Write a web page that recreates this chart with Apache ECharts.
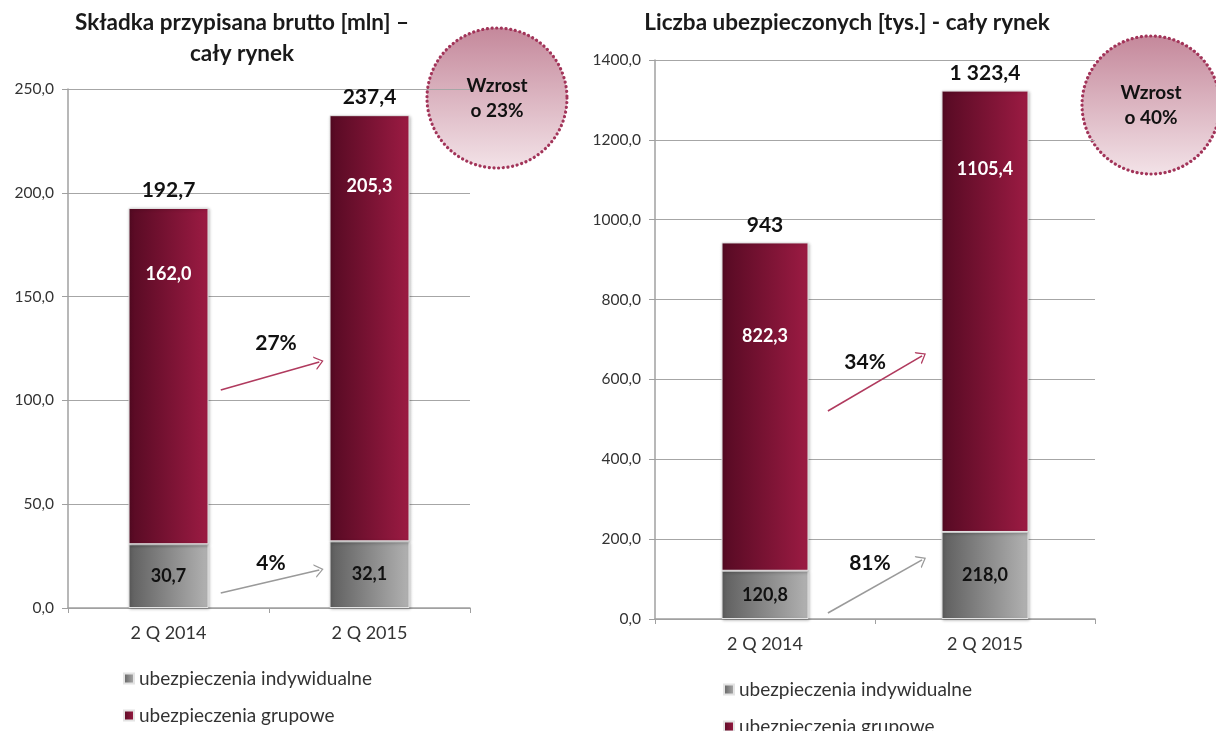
<!DOCTYPE html>
<html>
<head>
<meta charset="utf-8">
<title>Składka i liczba ubezpieczonych</title>
<script src="https://cdn.jsdelivr.net/npm/echarts@6/dist/echarts.min.js"></script>
<style>
  html, body { margin: 0; padding: 0; background: #fff; }
  #chart { width: 1216px; height: 731px; }
</style>
</head>
<body>
<div id="chart"></div>
<script>
// dane z wykresu
const categories = ['2 Q 2014', '2 Q 2015'];
const seriesNames = ['ubezpieczenia indywidualne', 'ubezpieczenia grupowe'];

const premiumIndyw = [30.7, 32.1];
const premiumGrup = [162.0, 205.3];
const premiumTotals = ['192,7', '237,4'];
const premiumGrowth = ['27%', '4%']; // grupowe, indywidualne
const premiumTotalGrowth = 'Wzrost\no 23%';

const insuredIndyw = [120.8, 218.0];
const insuredGrup = [822.3, 1105.4];
const insuredTotals = ['943', '1 323,4'];
const insuredGrowth = ['34%', '81%'];
const insuredTotalGrowth = 'Wzrost\no 40%';

// osie
const premiumAxis = { min: 0, max: 250, interval: 50 };
const insuredAxis = { min: 0, max: 1400, interval: 200 };

const FONT = 'Lato, "Open Sans", sans-serif';
const GREY = new echarts.graphic.LinearGradient(0, 0, 1, 0, [
  { offset: 0, color: '#5e5e5e' },
  { offset: 1, color: '#b2b2b2' }
]);
const MAROON = new echarts.graphic.LinearGradient(0, 0, 1, 0, [
  { offset: 0, color: '#560a23' },
  { offset: 1, color: '#9c1b43' }
]);
const fmt = (v) => v.toFixed(1).replace('.', ',');

// strzalki i opisy wzrostu (x: pozycja miedzy kategoriami 0..1)
const panels = [
  {
    grid: { left: 68, right: 746, top: 89, bottom: 123 },
    axis: premiumAxis,
    indyw: premiumIndyw, grup: premiumGrup, totals: premiumTotals,
    growth: premiumGrowth,
    arrows: [
      [[0.26, 105], [0.75, 118.5], '#b03a5e'],
      [[0.26, 7.2], [0.75, 18.3], '#9a9a9a']
    ],
    growthPos: [[0.535, 127.5], [0.51, 21.5]],
    innerDrop: [57, 62],
    barWidth: 80,
    legend: { left: 118, top: 664 },
    title: { x: 242, y: 7, text: 'Składka przypisana brutto [mln] –\ncały rynek' },
    circle: { cx: 497, cy: 98, r: 70, text: premiumTotalGrowth }
  },
  {
    grid: { left: 655, right: 121, top: 60, bottom: 112 },
    axis: insuredAxis,
    indyw: insuredIndyw, grup: insuredGrup, totals: insuredTotals,
    growth: insuredGrowth,
    arrows: [
      [[0.286, 521], [0.714, 659], '#b03a5e'],
      [[0.286, 15], [0.714, 148], '#9a9a9a']
    ],
    growthPos: [[0.455, 644], [0.477, 140]],
    innerDrop: [85, 70],
    barWidth: 87,
    legend: { left: 718, top: 675 },
    title: { x: 847, y: 7, text: 'Liczba ubezpieczonych [tys.] - cały rynek' },
    circle: { cx: 1151, cy: 105, r: 69, text: insuredTotalGrowth }
  }
];

const grid = [], xAxis = [], yAxis = [], series = [], legend = [], graphic = [];

panels.forEach((p, i) => {
  grid.push(p.grid);
  xAxis.push({
    type: 'category', gridIndex: i, data: categories,
    axisLine: { lineStyle: { color: '#a0a0a0', width: 1.5 } },
    axisTick: { show: true, length: 5, lineStyle: { color: '#a0a0a0' } },
    axisLabel: { fontFamily: FONT, fontSize: 18, color: '#333', margin: 16 }
  });
  yAxis.push({
    type: 'value', gridIndex: i,
    min: p.axis.min, max: p.axis.max, interval: p.axis.interval,
    axisLine: { show: true, onZero: false, lineStyle: { color: '#a0a0a0', width: 1.5 } },
    axisTick: { show: true, length: 6, lineStyle: { color: '#a0a0a0' } },
    axisLabel: { fontFamily: FONT, fontSize: 15.5, color: '#333', margin: 14, formatter: fmt },
    splitLine: { lineStyle: { color: '#a6a6a6', width: 1.2 } }
  });
});
// ukryte osie liczbowe pod strzalki
panels.forEach((p, i) => {
  xAxis.push({ type: 'value', gridIndex: i, min: -0.5, max: 1.5, show: false,
    axisLine: { onZero: false } });
});

panels.forEach((p, i) => {
  const stack = 'st' + i;
  const barBase = {
    type: 'bar', stack, xAxisIndex: i, yAxisIndex: i, barWidth: p.barWidth
  };
  series.push(Object.assign({}, barBase, {
    name: seriesNames[0],
    data: p.indyw,
    itemStyle: { color: GREY, borderColor: '#e4e4e4', borderWidth: 1,
      shadowBlur: 3, shadowColor: 'rgba(0,0,0,0.25)', shadowOffsetX: 1, shadowOffsetY: 1 },
    label: { show: true, position: 'inside', formatter: (d) => fmt(d.value),
      textBorderWidth: 0,
      fontFamily: FONT, fontWeight: 'bold', fontSize: 18, color: '#111' }
  }));
  series.push(Object.assign({}, barBase, {
    name: seriesNames[1],
    data: p.grup.map((v, k) => ({
      value: v,
      label: { distance: p.innerDrop[k] }
    })),
    itemStyle: { color: MAROON, borderColor: '#e4e4e4', borderWidth: 1,
      shadowBlur: 3, shadowColor: 'rgba(0,0,0,0.25)', shadowOffsetX: 1, shadowOffsetY: 1 },
    label: { show: true, position: 'insideTop', formatter: (d) => fmt(d.value),
      textBorderWidth: 0,
      fontFamily: FONT, fontWeight: 'bold', fontSize: 18, color: '#fff' }
  }));
  // sumy nad slupkami
  series.push(Object.assign({}, barBase, {
    name: 'suma',
    data: p.totals.map(() => 0),
    itemStyle: { color: 'transparent' },
    label: { show: true, position: 'top', distance: 7,
      formatter: (d) => p.totals[d.dataIndex],
      fontFamily: FONT, fontWeight: 'bold', fontSize: 21, color: '#111' },
    tooltip: { show: false }
  }));
  // strzalki
  series.push({
    type: 'line', xAxisIndex: 2 + i, yAxisIndex: i, data: [], silent: true,
    markLine: {
      silent: true,
      symbol: ['none', 'path://M0,12 L6,0 L12,12 L10.6,12 L6,2.6 L1.4,12 Z'],
      symbolSize: [14, 9],
      label: { show: false },
      data: p.arrows.map((a) => [
        { coord: a[0], lineStyle: { color: a[2], width: 1.6, type: 'solid' } },
        { coord: a[1] }
      ])
    }
  });
  // opisy procentowe
  series.push({
    type: 'scatter', xAxisIndex: 2 + i, yAxisIndex: i, silent: true,
    symbolSize: 0, itemStyle: { color: 'transparent', opacity: 1 },
    data: p.growthPos.map((pos, k) => [pos[0], pos[1], p.growth[k]]),
    label: { show: true, position: 'inside', formatter: (d) => d.value[2],
      opacity: 1, textBorderWidth: 0,
      fontFamily: FONT, fontWeight: 'bold', fontSize: 21, color: '#111' }
  });

  legend.push({
    orient: 'vertical', left: p.legend.left, top: p.legend.top, height: 120,
    data: seriesNames, icon: 'rect', itemWidth: 10, itemHeight: 10, itemGap: 18,
    textStyle: { fontFamily: FONT, fontSize: 19, color: '#333' }
  });

  graphic.push({
    type: 'text', x: p.title.x, y: p.title.y, z: 100,
    style: { text: p.title.text, fontFamily: FONT, fontWeight: 'bold', fontSize: 22.5,
      fill: '#1a1a1a', align: 'center', verticalAlign: 'top', lineHeight: 31 }
  });
  graphic.push({
    type: 'group', x: p.circle.cx, y: p.circle.cy, z: 100,
    children: [
      {
        type: 'circle', shape: { cx: 0, cy: 0, r: p.circle.r },
        style: {
          fill: new echarts.graphic.LinearGradient(0, 0, 0, 1, [
            { offset: 0, color: '#c4879a' },
            { offset: 1, color: '#f3e3e8' }
          ]),
          stroke: '#a23459', lineWidth: 3.2, lineDash: [0.1, 4.6], lineCap: 'round'
        }
      },
      {
        type: 'text', x: 0, y: 0,
        style: { text: p.circle.text, fontFamily: FONT, fontWeight: 'bold', fontSize: 19,
          fill: '#111', align: 'center', verticalAlign: 'middle', lineHeight: 25 }
      }
    ]
  });
});

const chart = echarts.init(document.getElementById('chart'), null, { renderer: 'canvas' });
chart.setOption({
  animation: false,
  backgroundColor: '#fff',
  grid, xAxis, yAxis, series, legend, graphic
});
</script>
</body>
</html>
